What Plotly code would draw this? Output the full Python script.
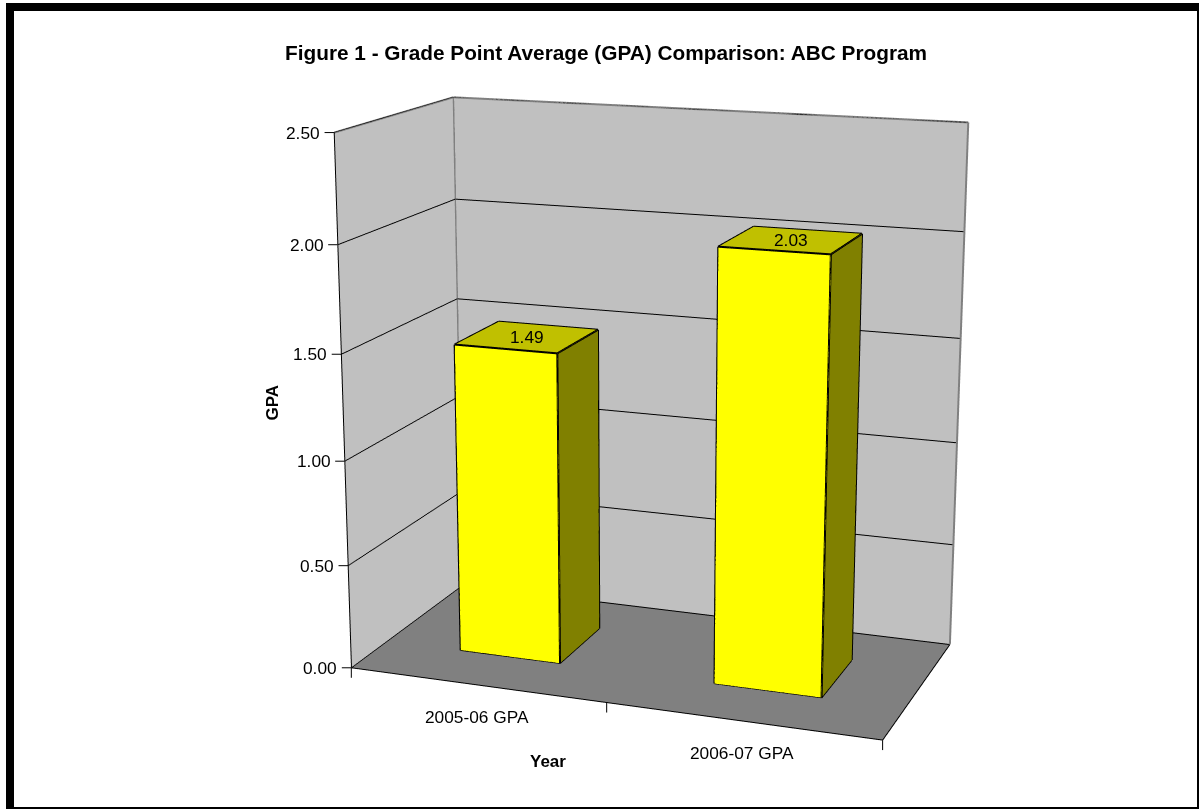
import plotly.graph_objects as go

categories = ["2005-06 GPA", "2006-07 GPA"]
gpa_values = [1.49, 2.03]
z_ticks = [0.0, 0.5, 1.0, 1.5, 2.0, 2.5]
z_tick_labels = ["0.00", "0.50", "1.00", "1.50", "2.00", "2.50"]
category_centers = [0.5, 1.5]
x_ticks = [0, 1, 2]

# Axis ranges and bar footprint on the category / depth axes
X_MAX, Y_MAX, Z_MAX = 2.0, 1.0, 2.5
BAR_X = [(0.3001, 0.6995), (1.2980, 1.6977)]
BAR_Y = (0.3070, 0.7114)

# Figure geometry: plotly's field of view is fixed, so a tall canvas gives the
# reference's long lens; the page shows the part of it that holds the chart.
W, H, TOP = 1199, 2027, -588
DOMAIN_X = [0.05571, 1.0]
EYE = dict(x=1.4654, y=-4.0911, z=1.1185)
CENTER = dict(x=0.0157, y=-0.1595, z=-0.0079)
UP = dict(x=0.7158, y=-1.9407, z=1.0)
ASPECT = dict(x=1.0174, y=0.5069, z=1.0)

FONT = "Liberation Sans"
TEXT = dict(family=FONT, size=17.3, color="black")
BOLD = dict(family=FONT, size=17, color="black")


def page_y(y):
    return 1 - (y - TOP) / H


fig = go.Figure()
ex, ey, ez = [], [], []
for (x0, x1), h in zip(BAR_X, gpa_values):
    y0, y1 = BAR_Y
    vx = [x0, x1, x1, x0, x0, x1, x1, x0]
    vy = [y0, y0, y1, y1, y0, y0, y1, y1]
    vz = [0, 0, 0, 0, h, h, h, h]
    tris = [(0,1,5),(0,5,4),(1,2,6),(1,6,5),(4,5,6),(4,6,7),(0,3,2),(0,2,1),(3,7,6),(3,6,2),(0,4,7),(0,7,3)]
    cols = ["#FFFF00"]*2 + ["#808000"]*2 + ["#C0C000"]*2 + ["#808000"]*6
    fig.add_trace(go.Mesh3d(x=vx, y=vy, z=vz,
        i=[t[0] for t in tris], j=[t[1] for t in tris], k=[t[2] for t in tris],
        facecolor=cols, flatshading=True, hoverinfo="skip", showscale=False,
        lighting=dict(ambient=1, diffuse=0, specular=0, roughness=1, fresnel=0)))
    for s, t in [(0,1),(1,2),(0,4),(1,5),(2,6),(4,5),(5,6),(6,7),(7,4)]:
        ex += [vx[s], vx[t], None]; ey += [vy[s], vy[t], None]; ez += [vz[s], vz[t], None]
fig.add_trace(go.Scatter3d(x=ex, y=ey, z=ez, mode="lines", line=dict(color="black", width=4),
                           hoverinfo="skip", showlegend=False))


def edges(pairs, color, width):
    gx, gy, gz = [], [], []
    for a, c in pairs:
        gx += [a[0], c[0], None]; gy += [a[1], c[1], None]; gz += [a[2], c[2], None]
    fig.add_trace(go.Scatter3d(x=gx, y=gy, z=gz, mode="lines", line=dict(color=color, width=width),
                               hoverinfo="skip", showlegend=False))


edges([((0,0,Z_MAX),(0,Y_MAX,Z_MAX)), ((0,Y_MAX,Z_MAX),(X_MAX,Y_MAX,Z_MAX)),
       ((0,Y_MAX,0),(0,Y_MAX,Z_MAX)), ((X_MAX,Y_MAX,0),(X_MAX,Y_MAX,Z_MAX))], "#808080", 4)
edges([((0,0,0),(0,0,Z_MAX)), ((0,0,0),(X_MAX,0,0)), ((X_MAX,0,0),(X_MAX,Y_MAX,0))], "black", 2)

ann = []
for z, t in zip(z_ticks, z_tick_labels):
    ann.append(dict(x=0, y=0, z=z, text=t, showarrow=True, arrowhead=0, arrowwidth=1, arrowcolor="black",
                    ax=-31, ay=0, startstandoff=3, font=TEXT))
for (x0, x1), h in zip(BAR_X, gpa_values):
    ann.append(dict(x=(x0 + x1) / 2, y=sum(BAR_Y) / 2, z=h, text=f"{h:.2f}", showarrow=False,
                    xanchor="center", yanchor="middle", font=TEXT))
for xc, c in zip(category_centers, categories):
    ann.append(dict(x=xc, y=0, z=0, text=c, showarrow=False, xanchor="center", yanchor="middle",
                    yshift=-32, font=TEXT))
for xt in x_ticks:
    ann.append(dict(x=xt, y=0, z=0, text=" ", showarrow=True, arrowhead=0, arrowwidth=1, arrowcolor="black",
                    ax=0, ay=12, font=dict(family=FONT, size=1)))

off = dict(showgrid=False, showticklabels=False, zeroline=False, showspikes=False, showline=False, title="", ticks="")
scene = dict(
    domain=dict(x=DOMAIN_X, y=[0, 1]),
    aspectmode="manual", aspectratio=ASPECT,
    camera=dict(eye=EYE, center=CENTER, up=UP, projection=dict(type="perspective")),
    xaxis=dict(off, range=[0, X_MAX], showbackground=True, backgroundcolor="#C0C0C0"),
    yaxis=dict(off, range=[0, Y_MAX], showbackground=True, backgroundcolor="#C0C0C0"),
    zaxis=dict(off, range=[0, Z_MAX], showbackground=True, backgroundcolor="#808080",
               showgrid=True, gridcolor="black", gridwidth=2, tickvals=z_ticks),
    annotations=ann,
)


def band(x0, y0, x1, y1):
    return dict(type="rect", xref="paper", yref="paper", x0=x0 / W, x1=x1 / W, y0=page_y(y0), y1=page_y(y1),
                fillcolor="black", line=dict(width=0), layer="below")


def label(text, x, y, font, angle=0):
    return dict(text=text, x=x / W, y=page_y(y), xref="paper", yref="paper", showarrow=False,
                xanchor="center", yanchor="middle", textangle=angle, font=font)


fig.update_layout(
    scene=scene, width=W, height=H, margin=dict(l=0, r=0, t=0, b=0), paper_bgcolor="white", showlegend=False,
    shapes=[band(6, 3, 14, 808), band(6, 3, 1199, 11), band(1197, 3, 1199, 808), band(6, 807, 1199, 809)],
    annotations=[
        label("<b>Figure 1 - Grade Point Average (GPA) Comparison: ABC Program</b>", 606, 52,
              dict(family=FONT, size=20.8, color="black")),
        label("<b>GPA</b>", 272, 402.5, BOLD, -90),
        label("<b>Year</b>", 548, 761.5, BOLD),
    ])
fig.write_html("out.html", config=dict(displayModeBar=False),
    post_script="document.documentElement.style.overflow='hidden';document.body.style.overflow='hidden';"
                "document.body.style.margin='0';document.getElementById('{plot_id}').style.marginTop='%dpx';" % TOP)
